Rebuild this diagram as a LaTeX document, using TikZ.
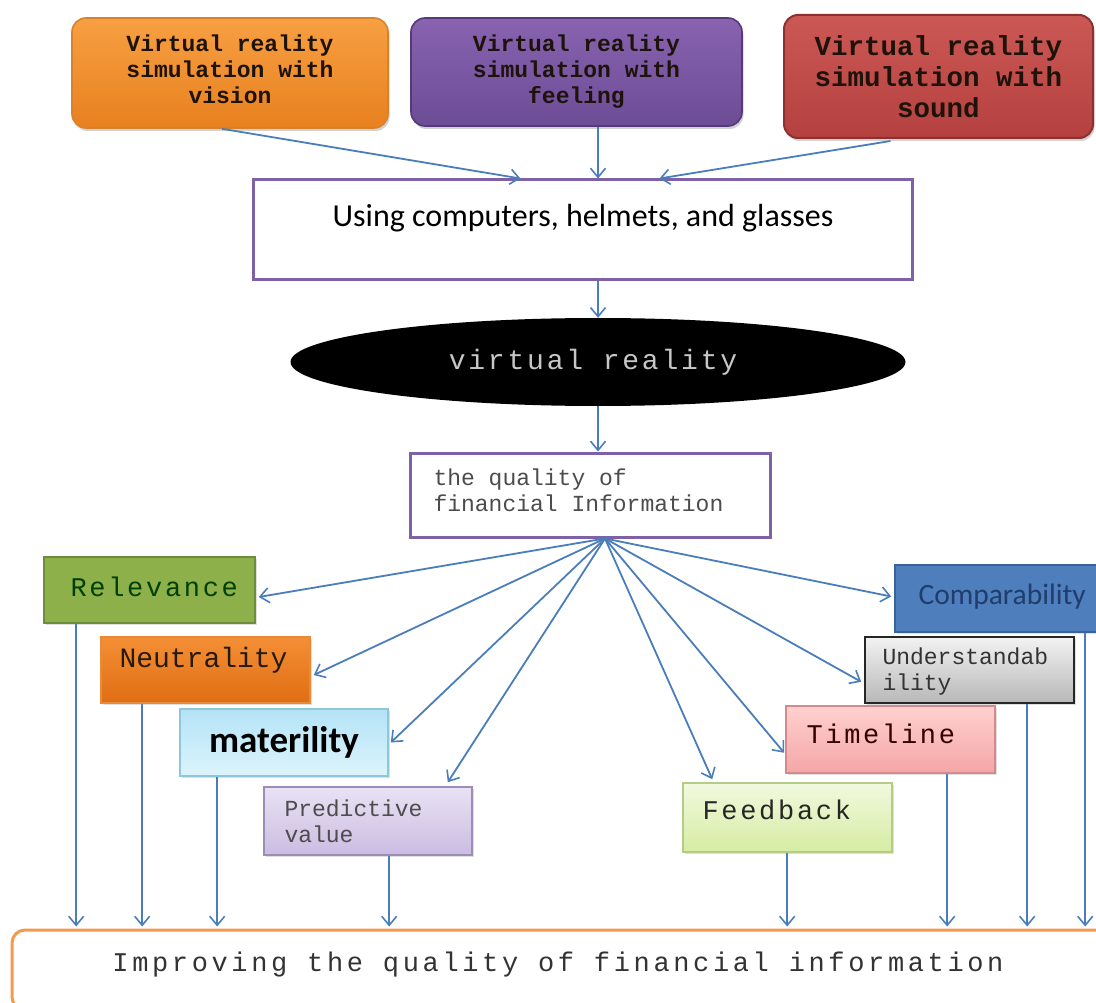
\documentclass[tikz,border=0pt]{standalone}
\usepackage{fontspec}
\newfontfamily\cour{Liberation Mono}
\newfontfamily\courS{Liberation Mono}[LetterSpace=10]
\newfontfamily\courW{Liberation Mono}[LetterSpace=13.5]
\newfontfamily\cali{Carlito}
\usetikzlibrary{arrows.meta,calc,shapes.geometric,shadows}

\definecolor{arrowblue}{HTML}{4A7EBB}
\definecolor{frameviolet}{HTML}{7F62A6}
\definecolor{visTop}{HTML}{F7A042}
\definecolor{visBot}{HTML}{E8801F}
\definecolor{visLine}{HTML}{D9822E}
\definecolor{feelTop}{HTML}{8863B0}
\definecolor{feelBot}{HTML}{6D4C96}
\definecolor{feelLine}{HTML}{55397A}
\definecolor{sndTop}{HTML}{CC5855}
\definecolor{sndBot}{HTML}{B4413F}
\definecolor{sndLine}{HTML}{8B3230}
\definecolor{relFill}{HTML}{8DB04B}
\definecolor{relLine}{HTML}{6E8C3A}
\definecolor{neuTop}{HTML}{F48F35}
\definecolor{neuBot}{HTML}{E06D14}
\definecolor{neuLine}{HTML}{E88A3A}
\definecolor{matTop}{HTML}{B3E3F6}
\definecolor{matBot}{HTML}{DDF4FC}
\definecolor{matLine}{HTML}{8EC7DA}
\definecolor{preTop}{HTML}{E9E2F3}
\definecolor{preBot}{HTML}{CBBCE2}
\definecolor{preLine}{HTML}{9C8CB8}
\definecolor{comFill}{HTML}{4E7EBB}
\definecolor{comLine}{HTML}{3A6398}
\definecolor{comText}{HTML}{1F3D6E}
\definecolor{timTop}{HTML}{FFD0D0}
\definecolor{timBot}{HTML}{F5A6A6}
\definecolor{timLine}{HTML}{D48A8A}
\definecolor{feeTop}{HTML}{F1F9DE}
\definecolor{feeBot}{HTML}{D6ECA3}
\definecolor{feeLine}{HTML}{B5CB88}
\definecolor{resLine}{HTML}{F39A4C}

\begin{document}
\begin{tikzpicture}[x=1pt,y=-1pt,
  arr/.style={draw=arrowblue, line width=1.8pt,
    -{Straight Barb[length=9pt,width=15pt,line width=1.6pt]}},
  plainbox/.style={rectangle, inner sep=0pt},
  topbox/.style={plainbox, rounded corners=14pt, line width=1.6pt,
    drop shadow={opacity=0.35, shadow xshift=1.5pt, shadow yshift=-3pt},
    font=\cour\bfseries\fontsize{23}{26}\selectfont, text=black!85!brown,
    align=center},
  toptext/.style={font=\cour\bfseries\fontsize{23}{26}\selectfont, text=black!85!brown,
    align=center},
  qbox/.style={plainbox, line width=1.6pt,
    drop shadow={opacity=0.25, shadow xshift=1.5pt, shadow yshift=-2pt}},
  spaced/.style={font=\courS\fontsize{27}{30}\selectfont},
  small/.style={font=\cour\fontsize{23}{26}\selectfont, align=left}
]
\useasboundingbox (0,0) rectangle (1096,1003);
\fill[white] (0,0) rectangle (1096,1003);

% --- three ways of simulating virtual reality
\node[topbox, draw=visLine, top color=visTop, bottom color=visBot,
      minimum width=316pt, minimum height=110pt] (vis) at (230,73) {};
\node[toptext] (vist) at (230,69) {Virtual reality\\simulation with\\vision};
\node[topbox, draw=feelLine, top color=feelTop, bottom color=feelBot,
      minimum width=331pt, minimum height=108pt] (feel) at (576.5,72)
  {Virtual reality\\simulation with\\feeling};
\node[topbox, draw=sndLine, line width=2pt, top color=sndTop, bottom color=sndBot,
      minimum width=309pt, minimum height=123pt,
      font=\cour\bfseries\fontsize{27.5}{31}\selectfont] (snd) at (938.5,76.5)
  {Virtual reality\\simulation with\\sound};

% --- devices
\node[plainbox, draw=frameviolet, line width=3pt, minimum width=659pt, minimum height=100pt]
  (dev) at (582.5,230) {};
\node[font=\cali\fontsize{32}{34}\selectfont] (devt) at (583,218)
  {Using computers, helmets, and glasses};

% --- virtual reality
\node[ellipse, fill=black, inner sep=0pt, minimum width=615pt, minimum height=88pt]
  (vr) at (598,362) {};
\node[font=\courS\fontsize{28}{30}\selectfont, text=black!22] (vrt) at (593,362) {virtual reality};

% --- quality of financial information
\node[plainbox, draw=frameviolet, line width=3pt, minimum width=360pt, minimum height=84pt]
  (qual) at (590,495) {};
\node[small, text=black!70, anchor=west] (qualt) at (430,490)
  {the quality of\\financial Information};

% --- qualitative characteristics, left side
\node[qbox, draw=relLine, fill=relFill,
      minimum width=211pt, minimum height=66pt] (rel) at (149.5,590) {};
\node[spaced, text=black!75!green, anchor=west] (relt) at (67,587) {Relevance};

\node[qbox, draw=neuLine, top color=neuTop, bottom color=neuBot,
      minimum width=209pt, minimum height=66pt] (neu) at (205.5,670) {};
\node[font=\cour\fontsize{28}{30}\selectfont, text=black!80!brown, anchor=west] (neut) at (116,660) {Neutrality};

\node[qbox, draw=matLine, top color=matTop, bottom color=matBot,
      minimum width=208pt, minimum height=67pt] (mat) at (284,742.5) {};
\node[font=\cali\bfseries\fontsize{37}{40}\selectfont] (matt) at (284,742) {materility};

\node[qbox, draw=preLine, top color=preTop, bottom color=preBot,
      minimum width=208pt, minimum height=68pt] (pred) at (368,821) {};
\node[small, text=black!70, anchor=west] (predt) at (281,821) {Predictive\\value};

% --- qualitative characteristics, right side
\node[qbox, draw=comLine, fill=comFill,
      minimum width=215pt, minimum height=67pt] (comp) at (1002.5,598.5) {};
\node[font=\cali\fontsize{29.5}{31}\selectfont, text=comText, anchor=west] (compt) at (915,597) {Comparability};

\node[qbox, draw=black!85, top color=black!5, bottom color=black!28,
      minimum width=209pt, minimum height=66pt] (und) at (969.5,670) {};
\node[small, text=black!80, anchor=west] (undt) at (879,672) {Understandab\\ility};

\node[qbox, draw=timLine, top color=timTop, bottom color=timBot,
      minimum width=209pt, minimum height=67pt] (tim) at (890.5,739.5) {};
\node[spaced, text=black!80!red, anchor=west] (timt) at (803,734) {Timeline};

\node[qbox, draw=feeLine, top color=feeTop, bottom color=feeBot,
      minimum width=209pt, minimum height=69pt] (feed) at (787.5,817.5) {};
\node[spaced, text=black!85, anchor=west] (feedt) at (699,810) {Feedback};

% --- result
\node[plainbox, draw=resLine, line width=3pt, rounded corners=13pt, fill=white,
      minimum width=1098pt, minimum height=80pt] (res) at (561,970) {};
\node[font=\courW\fontsize{27}{30}\selectfont, text=black!80] (rest) at (558,965)
  {Improving the quality of financial information};

% --- flow from the simulations down to the characteristics
\draw[arr] ($(vis.south)+(-8,0)$) -- ($(dev.north)+(-62,0)$);
\draw[arr] (feel.south -| vr.north) -- (dev.north -| vr.north);
\draw[arr] ($(snd.south)+(-48,2)$) -- ($(dev.north)+(77,0)$);
\draw[arr] (dev.south -| vr.north) -- (vr.north);
\draw[arr] (vr.south) -- (qual.north -| vr.south);

\coordinate (fan) at ($(qual.south)+(15,0)$);
\draw[arr] (fan) -- ($(rel.east)+(3,7)$);
\draw[arr] (fan) -- ($(neu.east)+(3,5)$);
\draw[arr] (fan) -- ($(mat.east)+(2,0)$);
\draw[arr] (fan) -- ($(pred.north east)+(-25,-4)$);
\draw[arr] (fan) -- ($(feed.north west)+(30,-3)$);
\draw[arr] (fan) -- ($(tim.south west)+(-1,-21)$);
\draw[arr] (fan) -- ($(und.south west)+(-3,-22)$);
\draw[arr] (fan) -- ($(comp.west)+(-3,-2)$);

% --- every characteristic feeds the result
\coordinate (d1) at ($(rel.south west)+(33,0)$);
\coordinate (d2) at ($(neu.south west)+(42,0)$);
\coordinate (d3) at ($(mat.south west)+(38,0)$);
\coordinate (d4) at ($(pred.south west)+(126,0)$);
\coordinate (d5) at ($(feed.south west)+(105,0)$);
\coordinate (d6) at ($(tim.south west)+(162,0)$);
\coordinate (d7) at ($(und.south west)+(163,0)$);
\coordinate (d8) at ($(comp.south west)+(191,0)$);
\foreach \d in {d1,d2,d3,d4,d5,d6,d7,d8}
  \draw[arr] (\d) -- ($(\d |- res.north)+(0,-2)$);
\end{tikzpicture}
\end{document}
